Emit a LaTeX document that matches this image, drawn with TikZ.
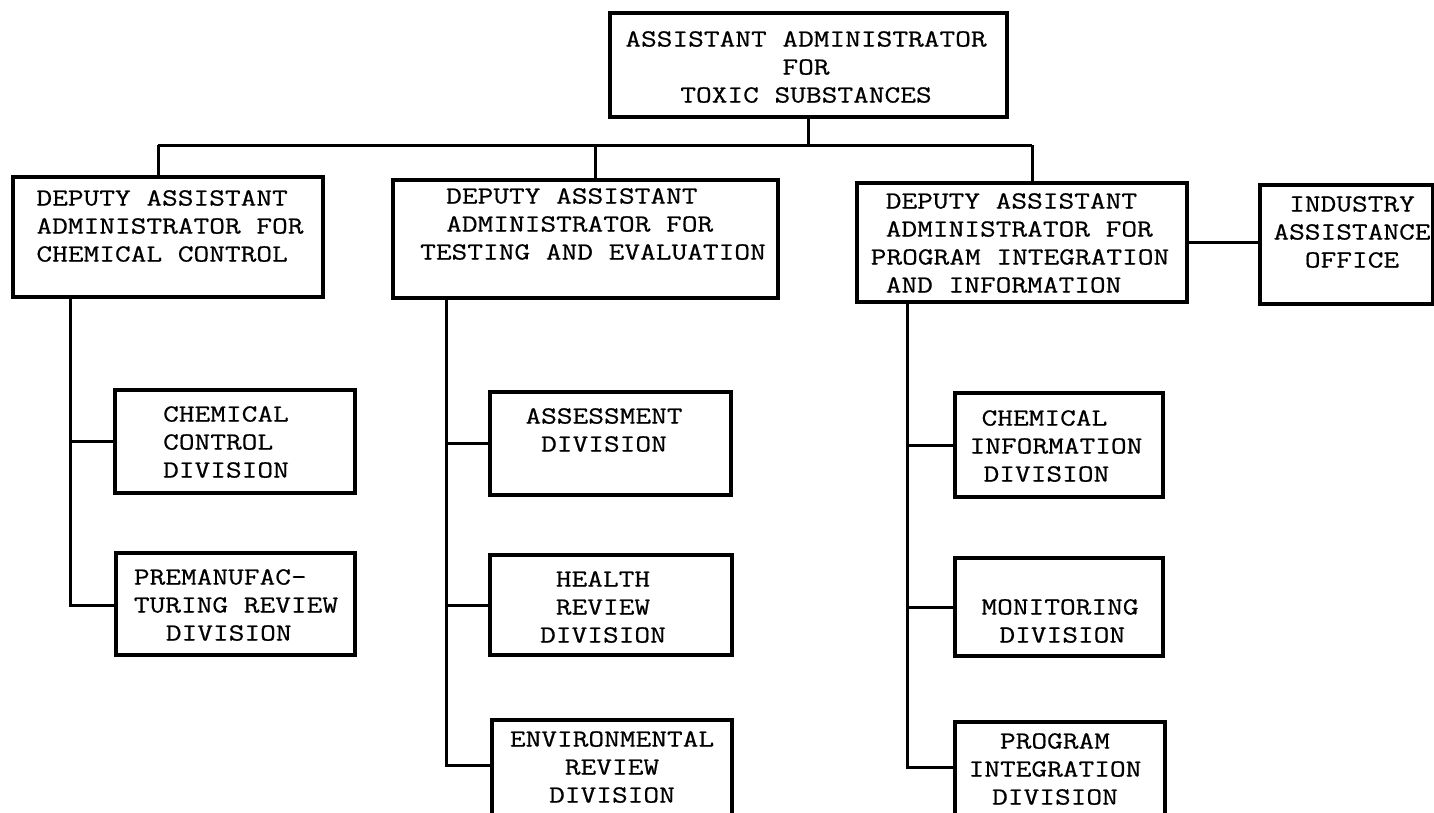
\documentclass[tikz,border=0pt]{standalone}
\usepackage{fontspec}
\newfontfamily\tw{Latin Modern Mono}[FakeStretch=1.24,FakeBold=0.6]
\usetikzlibrary{fit}
\begin{document}
\begin{tikzpicture}[x=0.5pt,y=-0.5pt,
  box/.style={draw, line width=1.6pt, inner sep=0pt},
  lbl/.style={font=\fontsize{12.3pt}{14pt}\tw, inner sep=0pt},
  wire/.style={line width=1.5pt}]
\useasboundingbox (0,0) rectangle (1434,813);
\clip (0,0) rectangle (1434,813);
% boxes
\node[box, fit={(610,13) (1007,117)}] (T) {};
\node[box, fit={(13,177) (323,297)}] (B1) {};
\node[box, fit={(393,180) (778,298)}] (B2) {};
\node[box, fit={(857,183) (1187,302)}] (B3) {};
\node[box, fit={(1260,185) (1433,304)}] (IAO) {};
\node[box, fit={(115,390) (355,493)}] (CCD) {};
\node[box, fit={(116,553) (355,655)}] (PRD) {};
\node[box, fit={(490,392) (731,495)}] (ASM) {};
\node[box, fit={(490,555) (732,655)}] (HEA) {};
\node[box, fit={(492,720) (732,830)}] (ENV) {};
\node[box, fit={(955,393) (1163,497)}] (CID) {};
\node[box, fit={(955,558) (1163,656)}] (MON) {};
\node[box, fit={(955,722) (1165,830)}] (PID) {};
% texts
\node[lbl, align=center] (Tt) at (806,67) {ASSISTANT ADMINISTRATOR\\FOR\\TOXIC SUBSTANCES};
\node[lbl, align=left] (B1t) at (170,226) {DEPUTY ASSISTANT\\ADMINISTRATOR FOR\\CHEMICAL CONTROL};
\node[lbl, align=left] (B2t) at (593,224) {\hspace*{13pt}DEPUTY ASSISTANT\\\hspace*{13pt}ADMINISTRATOR FOR\\TESTING AND EVALUATION};
\node[lbl, align=left] (B3t) at (1020,243) {\hspace*{7.5pt}DEPUTY ASSISTANT\\\hspace*{7.5pt}ADMINISTRATOR FOR\\PROGRAM INTEGRATION\\\hspace*{7.5pt}AND INFORMATION};
\node[lbl, align=center] (IAOt) at (1352,232) {INDUSTRY\\ASSISTANCE\\OFFICE};
\node[lbl, align=left] (CCDt) at (226,442) {CHEMICAL\\CONTROL\\DIVISION};
\node[lbl, align=left] (PRDt) at (236,605) {PREMANUFAC-\\TURING REVIEW\\\hspace*{16pt}DIVISION};
\node[lbl, align=center] (ASMt) at (604,430) {ASSESSMENT\\DIVISION};
\node[lbl, align=center] (HEAt) at (603,607) {HEALTH\\REVIEW\\DIVISION};
\node[lbl, align=center] (ENVt) at (612,767) {ENVIRONMENTAL\\REVIEW\\DIVISION};
\node[lbl, align=left] (CIDt) at (1056,446) {\hspace*{6pt}CHEMICAL\\INFORMATION\\\hspace*{7pt}DIVISION};
\node[lbl, align=left] (MONt) at (1060,621) {MONITORING\\\hspace*{9pt}DIVISION};
\node[lbl, align=center] (PIDt) at (1055,769) {PROGRAM\\INTEGRATION\\DIVISION};
% top connectors
\coordinate (j0) at (808,145);
\coordinate (j1) at (158,145);
\coordinate (j2) at (595,145);
\coordinate (j3) at (1032,145);
\draw[wire] (T.south -| j0) -- (j0);
\draw[wire] (j1) -- (j3);
\draw[wire] (j1) -- (j1 |- B1.north);
\draw[wire] (j2) -- (j2 |- B2.north);
\draw[wire] (j3) -- (j3 |- B3.north);
\draw[wire] (B3.east) -- (B3.east -| IAO.west);
% column 1
\coordinate (s1) at (70,605);
\draw[wire] (B1.south -| s1) -- (s1) -- (PRD.west |- s1);
\draw[wire] (s1 |- CCD.west) -- (CCD.west);
% column 2
\coordinate (s2) at (446,765);
\draw[wire] (B2.south -| s2) -- (s2) -- (ENV.west |- s2);
\draw[wire] (s2 |- ASM.west) -- (ASM.west);
\draw[wire] (s2 |- HEA.west) -- (HEA.west);
% column 3
\coordinate (s3) at (907,767);
\draw[wire] (B3.south -| s3) -- (s3) -- (PID.west |- s3);
\draw[wire] (s3 |- CID.west) -- (CID.west);
\draw[wire] (s3 |- MON.west) -- (MON.west);
\end{tikzpicture}
\end{document}
